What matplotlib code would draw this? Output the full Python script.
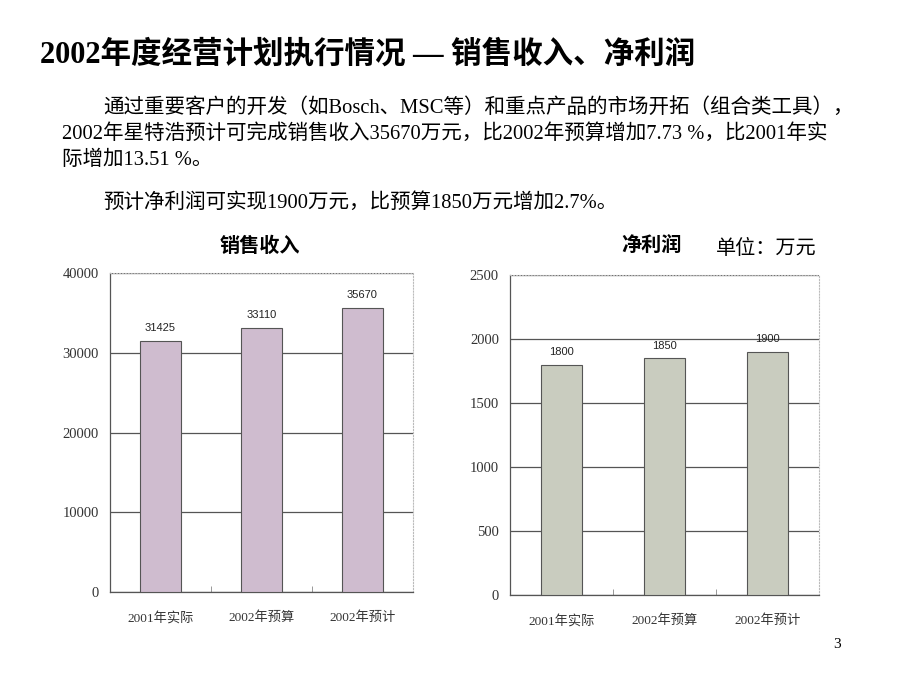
import matplotlib
matplotlib.use("Agg")
from matplotlib import pyplot as plt
import numpy as np

# data
categories = ['2001年实际', '2002年预算', '2002年预计']
sales = [31425, 33110, 35670]
profit = [1800, 1850, 1900]
sales_ticks = [0, 10000, 20000, 30000, 40000]
profit_ticks = [0, 500, 1000, 1500, 2000, 2500]

serif = ['Liberation Serif', 'Noto Sans CJK SC']
W, H = 920, 690

fig = plt.figure(figsize=(9.2, 6.9), dpi=100)
fig.patch.set_facecolor('white')


def put(x, y, s, **kw):
    fig.text(x / W, 1 - y / H, s, va='center', **kw)


# headline and paragraph
put(40, 55, '2002年度经营计划执行情况 — 销售收入、净利润', fontsize=22,
    fontweight='bold', family=serif)
put(103, 108, '通过重要客户的开发（如Bosch、MSC等）和重点产品的市场开拓（组合类工具），',
    fontsize=14.8, family=serif)
put(62, 134, '2002年星特浩预计可完成销售收入35670万元，比2002年预算增加7.73 %，比2001年实',
    fontsize=14.8, family=serif)
put(62, 160, '际增加13.51 %。', fontsize=14.8, family=serif)
put(103, 203, '预计净利润可实现1900万元，比预算1850万元增加2.7%。', fontsize=14.8, family=serif)

put(260, 245, '销售收入', fontsize=14.5, fontweight='bold', ha='center',
    family=['Noto Sans CJK SC'])
put(652, 245, '净利润', fontsize=14.5, fontweight='bold', ha='center',
    family=['Noto Sans CJK SC'])
put(766, 248, '单位：万元', fontsize=14.5, ha='center', family=['Noto Sans CJK SC'])
put(837, 645, '3', fontsize=11, ha='center', family=serif)


def bar_panel(rect, values, ticks, color, offset):
    ax = fig.add_axes(rect)
    x = np.arange(len(values))
    ax.bar(x, values, width=0.4, color=color, edgecolor='#555555',
           linewidth=0.8, zorder=3)
    for xi, v in zip(x, values):
        ax.text(xi, v + offset, str(v), ha='center', va='bottom',
                fontsize=8, family='Liberation Sans', color='#222222')
    ax.set_xlim(-0.5, len(values) - 0.5)
    ax.set_ylim(ticks[0], ticks[-1])
    ax.set_yticks(ticks)
    ax.set_yticklabels([str(t) for t in ticks], family=serif, fontsize=10.5,
                       color='#333333')
    ax.set_xticks(x)
    ax.set_xticklabels(categories, family=serif, fontsize=9.5, color='#333333')
    ax.set_xticks([0.5, 1.5], minor=True)
    ax.tick_params(axis='x', which='major', length=0, pad=14)
    ax.tick_params(axis='x', which='minor', length=4, direction='in',
                   color='#888888')
    ax.tick_params(axis='y', length=0, pad=8)
    ax.yaxis.grid(True, color='#555555', linewidth=0.9, zorder=0)
    ax.set_axisbelow(True)
    for s in ['top', 'right']:
        ax.spines[s].set_color('#bbbbbb')
        ax.spines[s].set_linestyle(':')
        ax.spines[s].set_linewidth(0.8)
    for s in ['left', 'bottom']:
        ax.spines[s].set_color('#555555')
        ax.spines[s].set_linewidth(0.9)
    return ax


bar_panel([110 / W, (H - 592) / H, 303 / W, 319 / H], sales, sales_ticks,
          '#cfbccf', 1000)
bar_panel([510 / W, (H - 595) / H, 309 / W, 320 / H], profit, profit_ticks,
          '#c9ccbf', 60)

fig.savefig('out.png', dpi=100, facecolor='white')
